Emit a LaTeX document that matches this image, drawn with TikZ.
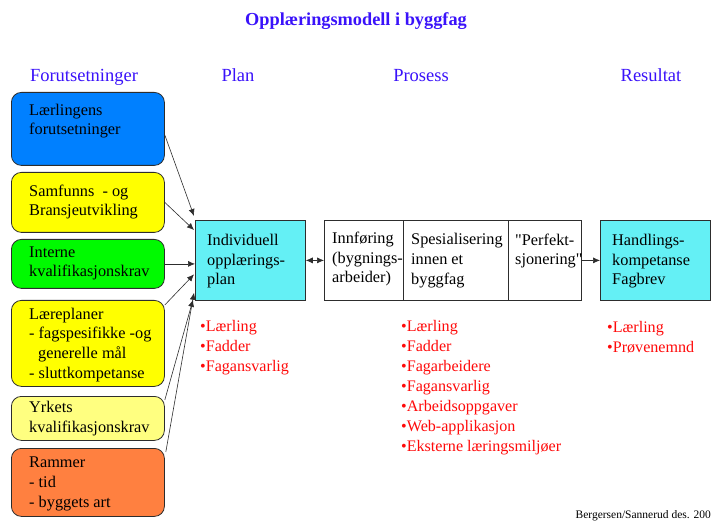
\documentclass[tikz,border=0pt]{standalone}
\usepackage{fontspec}
\setmainfont{Liberation Serif}
% straight quotes for the process cell
\newfontfamily\plainquotes{Liberation Serif}[Ligatures=TeXOff]
\usetikzlibrary{arrows.meta,calc}
\definecolor{ttl}{RGB}{58,18,250}
\definecolor{cblue}{RGB}{0,128,255}
\definecolor{cyel}{RGB}{255,255,0}
\definecolor{cgreen}{RGB}{0,250,0}
\definecolor{clyel}{RGB}{255,255,128}
\definecolor{corange}{RGB}{255,128,64}
\definecolor{ccyan}{RGB}{100,240,245}
\definecolor{cred}{RGB}{255,10,10}
\definecolor{edge}{RGB}{45,45,45}

\begin{document}
\begin{tikzpicture}[x=1pt,y=-1pt,
  inbox/.style={draw=edge, line width=0.8pt, rounded corners=10pt, inner sep=0pt, anchor=north west},
  sqbox/.style={draw=edge, line width=0.8pt, inner sep=0pt, anchor=north west},
  % multi-line texts are placed by the baseline of their last line
  txt/.style={anchor=base west, inner sep=0pt, align=left, font=\fontsize{16.3}{19.6}\selectfont},
  redtxt/.style={txt, text=cred, font=\fontsize{16.1}{19.9}\selectfont},
  head/.style={anchor=base, inner sep=0pt, text=ttl, font=\fontsize{18.5}{20}\selectfont},
  arr/.style={draw=edge, line width=0.6pt, -{Latex[length=7pt,width=6pt]}},
  darr/.style={draw=edge, line width=0.6pt, {Latex[length=7pt,width=6pt]}-{Latex[length=7pt,width=6pt]}}
]
\useasboundingbox[fill=white] (0,0) rectangle (712,521);

% title and column headings
\node[head, font=\bfseries\fontsize{18.3}{20}\selectfont] (title) at (356,26) {Opplæringsmodell i byggfag};
\node[head] (hforut) at (84,82) {Forutsetninger};
\node[head] (hplan) at (238,82) {Plan};
\node[head] (hpros) at (421,82) {Prosess};
\node[head] (hres) at (651,82) {Resultat};

% prerequisite boxes
\node[inbox, fill=cblue, minimum width=153pt, minimum height=73pt] (b1) at (11,92) {};
\node[inbox, fill=cyel, minimum width=153pt, minimum height=60pt] (b2) at (11,172) {};
\node[inbox, fill=cgreen, minimum width=153pt, minimum height=49pt] (b3) at (11,239) {};
\node[inbox, fill=cyel, minimum width=153pt, minimum height=86pt] (b4) at (11,300) {};
\node[inbox, fill=clyel, minimum width=153pt, minimum height=44pt] (b5) at (11,396) {};
\node[inbox, fill=corange, minimum width=153pt, minimum height=68pt] (b6) at (11,448) {};

\node[txt] (t1) at (29,135) {Lærlingens\\forutsetninger};
\node[txt] (t2) at (29,216) {Samfunns\ \ - og\\Bransjeutvikling};
\node[txt] (t3) at (29,277) {Interne\\kvalifikasjonskrav};
\node[txt] (t4) at (29,378) {Læreplaner\\- fagspesifikke -og\\\hspace*{9pt}generelle mål\\- sluttkompetanse};
\node[txt] (t5) at (29,432) {Yrkets\\kvalifikasjonskrav};
\node[txt] (t6) at (29,507) {Rammer\\- tid\\- byggets art};

% plan, process and result boxes
\node[sqbox, fill=ccyan, minimum width=110pt, minimum height=80pt] (plan) at (195,220) {};
\node[sqbox, fill=white, minimum width=79pt, minimum height=80pt] (p1) at (324,220) {};
\node[sqbox, fill=white, minimum width=105pt, minimum height=80pt] (p2) at (403,220) {};
\node[sqbox, fill=white, minimum width=73pt, minimum height=80pt] (p3) at (508,220) {};
\node[sqbox, fill=ccyan, minimum width=110pt, minimum height=80pt] (res) at (600,220) {};

\node[txt] (tplan) at (207,285) {Individuell\\opplærings-\\plan};
\node[txt] (tp1) at (332,283) {Innføring\\(bygnings-\\arbeider)};
\node[txt] (tp2) at (411,284) {Spesialisering\\innen et\\byggfag};
\node[txt] (tp3) at (515,265) {{\plainquotes"}Perfekt-\\sjonering{\plainquotes"}};
\node[txt] (tres) at (612,285) {Handlings-\\kompetanse\\Fagbrev};

% participants
\node[redtxt] (rplan) at (200,371) {•Lærling\\•Fadder\\•Fagansvarlig};
\node[redtxt] (rpros) at (401,451) {•Lærling\\•Fadder\\•Fagarbeidere\\•Fagansvarlig\\•Arbeidsoppgaver\\•Web-applikasjon\\•Eksterne læringsmiljøer};
\node[redtxt] (rres) at (607,352) {•Lærling\\•Prøvenemnd};

% connectors
\draw[arr] ([yshift=-43pt]b1.north east) -- ([shift={(-1pt,4pt)}]plan.north west);
\draw[arr] (b2.east) -- ([shift={(-1pt,-10pt)}]plan.north west);
\draw[arr] (b3.east) -- (b3.east -| plan.west);
\draw[arr] ([yshift=-5pt]b4.north east) -- ([shift={(-1pt,-14pt)}]plan.west);
\draw[arr] ([yshift=-4pt]b5.north east) -- ([shift={(-2pt,1pt)}]plan.south west);
\draw[arr] ([shift={(1pt,-4pt)}]b6.north east) -- ([shift={(-1pt,8pt)}]plan.south west);
\draw[darr] (plan.east) -- (p1.west);
\draw[arr] (p3.east) -- (res.west);

% credit line
\node[anchor=base east, inner sep=0pt, font=\fontsize{11.5}{13}\selectfont] (credit) at (711,518) {Bergersen/Sannerud des. 200};
\end{tikzpicture}
\end{document}
